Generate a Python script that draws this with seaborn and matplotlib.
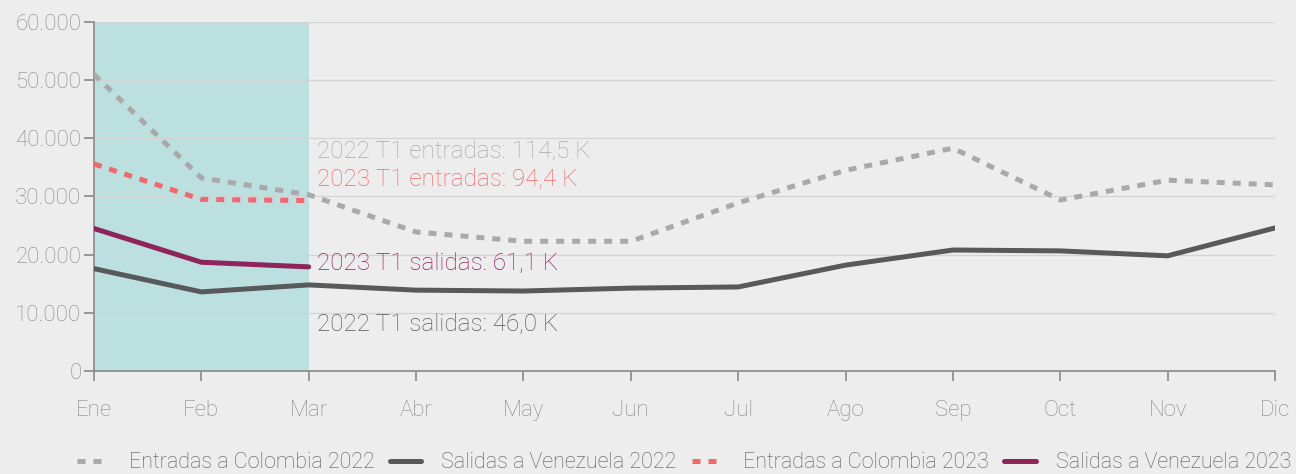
import numpy as np
import pandas as pd
import matplotlib.pyplot as plt
import seaborn as sns
from matplotlib.lines import Line2D

# --- datos ---
meses = ['Ene', 'Feb', 'Mar', 'Abr', 'May', 'Jun', 'Jul', 'Ago', 'Sep', 'Oct', 'Nov', 'Dic']
meses_t1 = ['Ene', 'Feb', 'Mar']
entradas_2022 = [51000, 33200, 30300, 23900, 22300, 22300, 28900, 34500, 38300, 29400, 32800, 32000]
salidas_2022 = [17600, 13600, 14800, 13900, 13750, 14250, 14450, 18200, 20800, 20650, 19800, 24600]
entradas_2023 = [35600, 29500, 29300]
salidas_2023 = [24500, 18700, 17900]

etiquetas = [
    ('2022 T1 entradas: 114,5 K', 37900, '#a9a9ab'),
    ('2023 T1 entradas: 94,4 K', 33100, '#f0686e'),
    ('2023 T1 salidas: 61,1 K', 18600, '#8e2457'),
    ('2022 T1 salidas: 46,0 K', 8100, '#58595b'),
]

BG = '#ecedec'
sns.set_theme(style='white')
plt.rcParams['font.family'] = ['Roboto', 'DejaVu Sans']
plt.rcParams['font.weight'] = 'light'

fig = plt.figure(figsize=(12.96, 4.74), dpi=100, facecolor=BG)
ax = fig.add_axes([0.0725, 0.2173, 0.9113, 0.7363])
ax.set_facecolor(BG)

x_all = np.arange(len(meses))
x_t1 = np.arange(len(meses_t1))

# sombreado del primer trimestre
ax.axvspan(0, 2, color='#bcdfe0', zorder=0, lw=0)

sns.lineplot(x=x_all, y=entradas_2022, ax=ax, color='#a9a9ab', lw=3.6,
             linestyle=(0, (1.6, 1.6)), zorder=3)
sns.lineplot(x=x_all, y=salidas_2022, ax=ax, color='#58595b', lw=3.6, zorder=3)
sns.lineplot(x=x_t1, y=entradas_2023, ax=ax, color='#f0686e', lw=3.6,
             linestyle=(0, (1.6, 1.6)), zorder=4)
sns.lineplot(x=x_t1, y=salidas_2023, ax=ax, color='#8e2457', lw=3.6, zorder=4)

for txt, yv, c in etiquetas:
    ax.annotate(txt, (2, yv), xytext=(6, 0), textcoords='offset points',
                va='center', ha='left', color=c, fontsize=17.5, fontweight='light')

ax.set_xlim(0, 11)
ax.set_ylim(0, 60000)
ax.set_yticks(range(0, 60001, 10000))
ax.set_yticklabels(['0' if v == 0 else f'{v:,}'.replace(',', '.') for v in range(0, 60001, 10000)])
ax.set_xticks(x_all)
ax.set_xticklabels(meses)
ax.yaxis.grid(True, color='#d2d4d4', lw=0.9)
ax.set_axisbelow(True)

for s in ['top', 'right']:
    ax.spines[s].set_visible(False)
for s in ['left', 'bottom']:
    ax.spines[s].set_color('#8f9090')
    ax.spines[s].set_linewidth(1.3)
ax.tick_params(axis='both', bottom=True, left=True, colors='#8f9090', labelcolor='#888888',
               labelsize=16, length=7, width=1.3, direction='out')
ax.tick_params(axis='x', pad=14)
ax.tick_params(axis='y', pad=2)

handles = [
    Line2D([], [], color='#a9a9ab', lw=3.6, linestyle=(0, (1.6, 1.6))),
    Line2D([], [], color='#58595b', lw=3.6),
    Line2D([], [], color='#f0686e', lw=3.6, linestyle=(0, (1.6, 1.6))),
    Line2D([], [], color='#8e2457', lw=3.6),
]
nombres = ['Entradas a Colombia 2022', 'Salidas a Venezuela 2022',
           'Entradas a Colombia 2023', 'Salidas a Venezuela 2023']
leg = fig.legend(handles, nombres, loc='center', bbox_to_anchor=(0.528, 0.024), ncol=4,
                 frameon=False, fontsize=15.5, handlelength=1.45, columnspacing=0.7,
                 handletextpad=0.95)
for t in leg.get_texts():
    t.set_color('#58595b')

fig.savefig('out.png', dpi=100, facecolor=BG)
